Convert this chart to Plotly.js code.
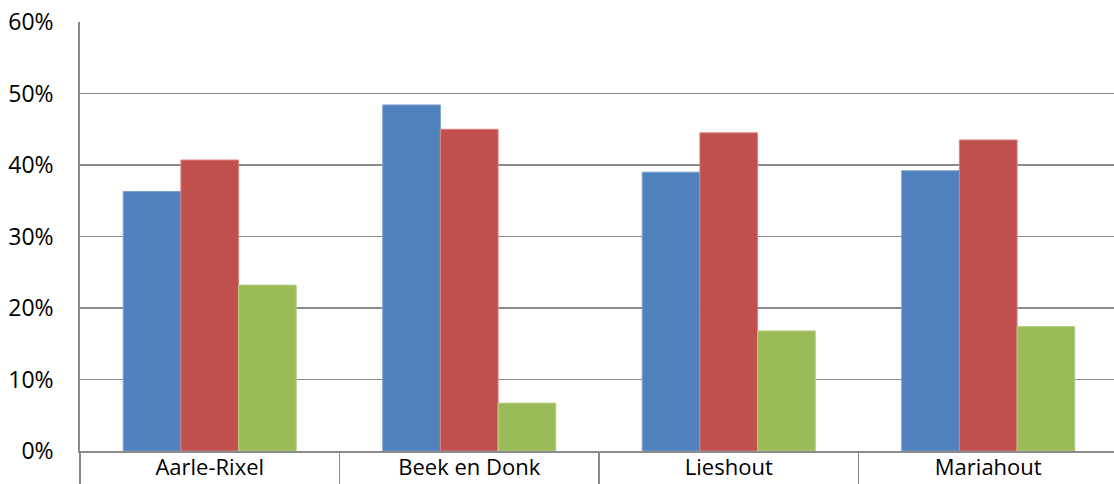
<!DOCTYPE html>
<html>
<head>
<meta charset="utf-8">
<script src="https://cdn.plot.ly/plotly-3.0.1.min.js"></script>
<style>
html,body{margin:0;padding:0;overflow:hidden;background:#fff;}
#chart{width:1118px;height:484px;}
</style>
</head>
<body>
<div id="chart"></div>
<script>
const categories = ["Aarle-Rixel", "Beek en Donk", "Lieshout", "Mariahout"];
const series1 = [0.363, 0.484, 0.390, 0.392];
const series2 = [0.407, 0.450, 0.445, 0.435];
const series3 = [0.232, 0.067, 0.168, 0.174];
const yTicks = [0, 0.1, 0.2, 0.3, 0.4, 0.5, 0.6];

const colors = ["#4F81BD", "#C0504D", "#9BBB59"];
const edges = ["#7EA1D0", "#D98380", "#B7CF86"];
const allSeries = [series1, series2, series3];

const traces = allSeries.map((vals, i) => ({
  type: "bar",
  x: categories,
  y: vals,
  marker: {color: colors[i], line: {color: edges[i], width: 1}},
  hoverinfo: "x+y"
}));

const layout = {
  width: 1118,
  height: 484,
  margin: {l: 80, r: 0, t: 22, b: 33, pad: 0},
  paper_bgcolor: "#fff",
  plot_bgcolor: "#fff",
  showlegend: false,
  barmode: "group",
  bargap: 0.333,
  bargroupgap: 0,
  font: {family: "Open Sans, Liberation Sans, sans-serif", color: "#000"},
  xaxis: {
    type: "category",
    tickson: "boundaries",
    ticks: "outside",
    ticklen: 40,
    tickwidth: 1.8,
    tickcolor: "#8a8a8a",
    ticklabelstandoff: -4,
    tickfont: {size: 22, color: "#000"},
    showline: true,
    linecolor: "#8a8a8a",
    linewidth: 1.8,
    showgrid: false,
    zeroline: false,
    fixedrange: true
  },
  yaxis: {
    range: [0, 0.6],
    tickvals: yTicks,
    tickformat: ".0%",
    ticks: "",
    ticklabelstandoff: 20,
    tickfont: {size: 23, color: "#000"},
    showgrid: true,
    gridcolor: "#8a8a8a",
    gridwidth: 1.8,
    showline: true,
    linecolor: "#8a8a8a",
    linewidth: 1.8,
    zeroline: false,
    fixedrange: true
  }
};

Plotly.newPlot("chart", traces, layout, {displayModeBar: false, staticPlot: true});
</script>
</body>
</html>
